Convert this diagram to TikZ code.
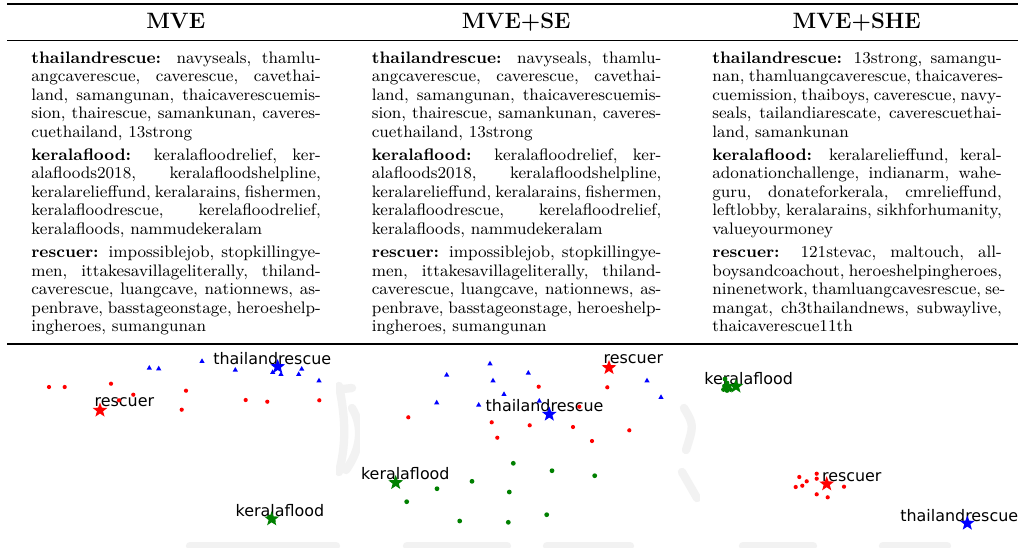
\documentclass[tikz,border=0pt]{standalone}
\usepackage{fontspec}
\newfontfamily\plotfont{DejaVu Sans}
\usetikzlibrary{shapes.geometric}

% one justified line of a column, and the last (ragged) line of a paragraph
\newcommand\JLine[1]{\makebox[\linewidth][s]{#1}\par}
\newcommand\ELine[1]{#1\par}
\newcommand\ParGap{\vspace{2.6pt}}
\newcommand\ColBox[1]{\parbox[t]{156.5pt}{\fontsize{9}{10}\selectfont
  \setlength\parindent{0pt}\setlength\parskip{0pt}#1}}

\newcommand\TextMVE{%
\JLine{\textbf{thailandrescue:} navyseals, thamlu-}
\JLine{angcaverescue, caverescue, cavethai-}
\JLine{land, samangunan, thaicaverescuemis-}
\JLine{sion, thairescue, samankunan, caveres-}
\ELine{cuethailand, 13strong}
\ParGap
\JLine{\textbf{keralaflood:} keralafloodrelief, ker-}
\JLine{alafloods2018, keralafloodshelpline,}
\JLine{keralarelieffund, keralarains, fishermen,}
\JLine{keralafloodrescue, kerelafloodrelief,}
\ELine{keralafloods, nammudekeralam}
\ParGap
\JLine{\textbf{rescuer:} impossiblejob, stopkillingye-}
\JLine{men, ittakesavillageliterally, thiland-}
\JLine{caverescue, luangcave, nationnews, as-}
\JLine{penbrave, basstageonstage, heroeshelp-}
\ELine{ingheroes, sumangunan}}

\newcommand\TextSHE{%
\JLine{\textbf{thailandrescue:} 13strong, samangu-}
\JLine{nan, thamluangcaverescue, thaicaveres-}
\JLine{cuemission, thaiboys, caverescue, navy-}
\JLine{seals, tailandiarescate, caverescuethai-}
\ELine{land, samankunan}
\ParGap
\JLine{\textbf{keralaflood:} keralarelieffund, keral-}
\JLine{adonationchallenge, indianarm, wahe-}
\JLine{guru, donateforkerala, cmrelieffund,}
\JLine{leftlobby, keralarains, sikhforhumanity,}
\ELine{valueyourmoney}
\ParGap
\JLine{\textbf{rescuer:} 121stevac, maltouch, all-}
\JLine{boysandcoachout, heroeshelpingheroes,}
\JLine{ninenetwork, thamluangcavesrescue, se-}
\JLine{mangat, ch3thailandnews, subwaylive,}
\ELine{thaicaverescue11th}}

\definecolor{mplgreen}{rgb}{0,0.5,0}

\begin{document}
\begin{tikzpicture}[x=0.5405pt,y=-0.5405pt,
  colhead/.style={anchor=base, inner sep=0, font=\fontsize{12}{14}\selectfont\bfseries},
  coltext/.style={anchor=base west, inner sep=0},
  plotlabel/.style={anchor=base west, inner sep=0, text=black,
    font=\plotfont\fontsize{8.6}{10}\selectfont},
  starmark/.style={star, star points=5, star point ratio=2.4, inner sep=0,
    minimum size=8.4pt, draw=none},
  wmark/.style={draw=black!5, line width=4.5pt, line cap=round},
  reddot/.style={fill=red},
  bluetri/.style={fill=blue},
  greendot/.style={fill=mplgreen}]

\useasboundingbox (0,0) rectangle (1018,547);
\fill[white] (0,0) rectangle (1018,547);

% faint background logo between the scatter panels
\draw[wmark] (339,386) .. controls (346,420) and (346,445) .. (339,472);
\draw[wmark] (343,389) -- (352,388);
\draw[wmark] (352,408) .. controls (364,428) and (360,450) .. (346,470);
\draw[wmark] (684,408) .. controls (694,425) .. (686,450);
\draw[wmark] (682,472) -- (697,498);
\draw[wmark] (190,546) -- (336,546);
\draw[wmark] (407,546) -- (507,546);
\draw[wmark] (547,546) -- (630,546);
\draw[wmark] (743,546) -- (813,546);
\draw[wmark] (883,546) -- (947,546);

% white plot areas
\fill[white] (0,346) rectangle (336,541);
\fill[white] (360,352) rectangle (677,541);
\fill[white] (700,347) rectangle (1018,541);

% table rules
\draw[line width=0.9pt] (7,4) -- (1018,4);
\draw[line width=0.5pt] (7,40) -- (1018,40);
\draw[line width=0.7pt] (7,344) -- (1018,344);

% column heads
\node[colhead] (h1) at (175.75,28.3) {MVE};
\node[colhead] (h2) at (516.25,28.3) {MVE+SE};
\node[colhead] (h3) at (856.75,28.3) {MVE+SHE};

% hashtag lists
\node[coltext] (t1) at (31,63) {\ColBox{\TextMVE}};
\node[coltext] (t2) at (371.5,63) {\ColBox{\TextMVE}};
\node[coltext] (t3) at (712,63) {\ColBox{\TextSHE}};

% ---------- panel 1: MVE ----------
\node[plotlabel] (l1t) at (213,364.6) {thailandrescue};
\node[plotlabel] (l1r) at (94.3,406.4) {rescuer};
\node[plotlabel] (l1k) at (235.3,516.2) {keralaflood};
\foreach \x/\y in {49/387,64.7/387,111/383.7,133.3/394.7,119/400.3,186/390.7,
  181.7/409.7,245.7/400,267.3/401.7,319.3/400.3}
  \fill[reddot] (\x,\y) circle (2.1);
\foreach \x/\y in {149.3/368,158.7/368.7,202/361.3,235.3/370,272.7/372.3,
  281/374.3,298.7/374.3,301.7/369,319/380.7}
  \fill[bluetri] (\x,\y) +(0,-3) -- +(2.6,1.6) -- +(-2.6,1.6) -- cycle;
\foreach \x/\y in {269.5/517,273.5/521}
  \fill[greendot] (\x,\y) circle (2.3);
\node[starmark, fill=red] (s1r) at (100,410.3) {};
\node[starmark, fill=blue] (s1t) at (277.7,366.7) {};
\node[starmark, fill=mplgreen] (s1k) at (271.7,519) {};

% ---------- panel 2: MVE+SE ----------
\node[plotlabel] (l2t) at (485.3,411.3) {thailandrescue};
\node[plotlabel] (l2r) at (603.3,363.4) {rescuer};
\node[plotlabel] (l2k) at (360.7,479.7) {keralaflood};
\foreach \x/\y in {446.7/375,490/363.7,493/380.7,528.3/373,504/394.3,436.7/402.7,
  478.7/405,539.3/401,647/380.7,661/397.3}
  \fill[bluetri] (\x,\y) +(0,-3) -- +(2.6,1.6) -- +(-2.6,1.6) -- cycle;
\foreach \x/\y in {538.7/386.7,607.3/387.3,579.3/406.7,408.3/417.3,491.7/422.3,
  529.7/425.3,573/427,629.3/430.3,497.3/437.7,592/441}
  \fill[reddot] (\x,\y) circle (2.1);
\foreach \x/\y in {513.3/463.3,552/470.7,594.7/475.7,472/481.3,437/488.7,
  509.3/492,406.7/501.7,546.7/514.7,459.7/521,508.3/522.3}
  \fill[greendot] (\x,\y) circle (2.4);
\node[starmark, fill=blue] (s2t) at (549.3,414.3) {};
\node[starmark, fill=red] (s2r) at (609,367.7) {};
\node[starmark, fill=mplgreen] (s2k) at (395.7,482.7) {};

% ---------- panel 3: MVE+SHE ----------
\node[plotlabel] (l3k) at (704,384.7) {keralaflood};
\node[plotlabel] (l3r) at (821.7,481) {rescuer};
\node[plotlabel] (l3t) at (900,521) {thailandrescue};
\foreach \x/\y in {725/379,727/383,724.5/386,729/386.5,723.5/389.5,727/390.5,
  730.5/389.5,726.5/387}
  \fill[greendot] (\x,\y) circle (2.4);
\foreach \x/\y in {799.3/477,806.7/481.3,802.3/485.7,795.7/487,816.7/473.7,
  816.7/478.7,816.7/494.3,827.7/497.3,844/486.7}
  \fill[reddot] (\x,\y) circle (2.1);
\node[starmark, fill=mplgreen] (s3k) at (736,386.3) {};
\node[starmark, fill=red] (s3r) at (826.7,484) {};
\node[starmark, fill=blue] (s3t) at (967.3,523.3) {};

\end{tikzpicture}
\end{document}
